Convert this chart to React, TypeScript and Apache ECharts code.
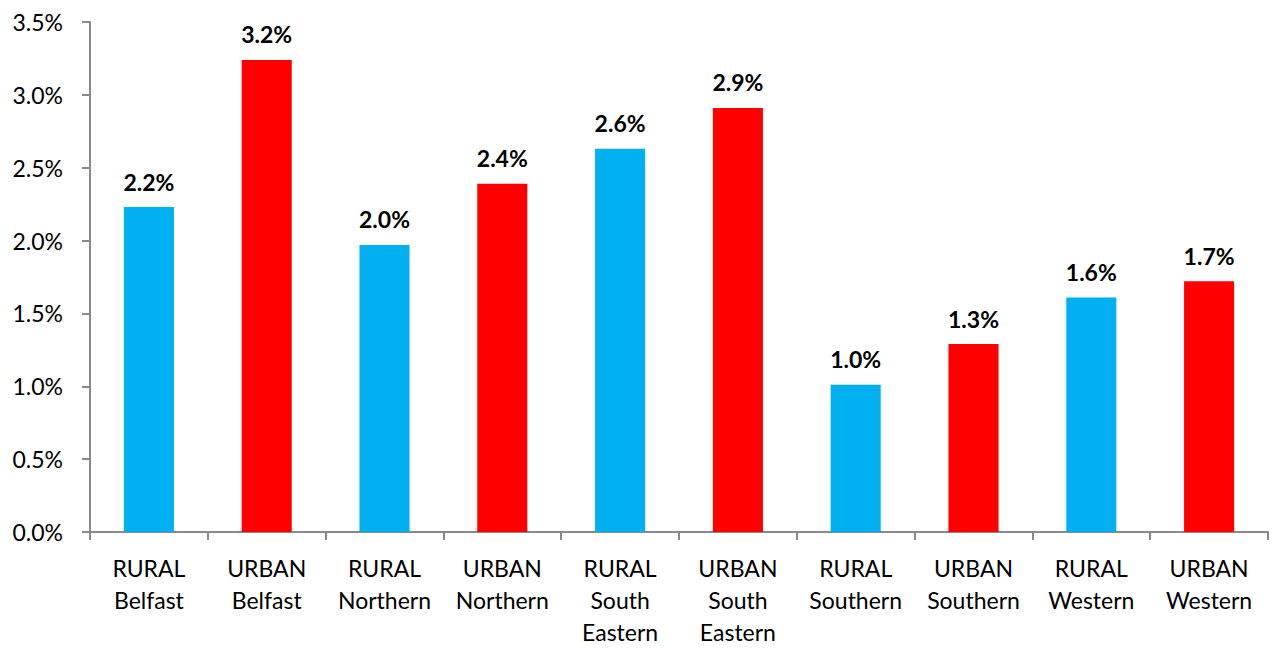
import React, { useEffect, useRef } from "react";
import * as echarts from "echarts";

const categories = [
  "RURAL\nBelfast",
  "URBAN\nBelfast",
  "RURAL\nNorthern",
  "URBAN\nNorthern",
  "RURAL\nSouth\nEastern",
  "URBAN\nSouth\nEastern",
  "RURAL\nSouthern",
  "URBAN\nSouthern",
  "RURAL\nWestern",
  "URBAN\nWestern",
];
const values = [2.23, 3.24, 1.97, 2.39, 2.63, 2.91, 1.01, 1.29, 1.61, 1.72];
const yTicks = [0, 0.5, 1.0, 1.5, 2.0, 2.5, 3.0, 3.5];

const FONT = "Lato, 'Open Sans', sans-serif";

export default function App() {
  const ref = useRef<HTMLDivElement>(null);
  useEffect(() => {
    if (!ref.current) return;
    const chart = echarts.init(ref.current, undefined, { renderer: "svg" });
    chart.setOption({
      animation: false,
      grid: { left: 90, right: 5, top: 22, bottom: 113, containLabel: false },
      xAxis: {
        type: "category",
        data: categories,
        axisLine: { lineStyle: { color: "#898989", width: 2 } },
        axisTick: { show: true, length: 8, lineStyle: { color: "#898989", width: 2 } },
        axisLabel: {
          color: "#000",
          fontFamily: FONT,
          fontSize: 23,
          lineHeight: 32,
          margin: 20,
          interval: 0,
        },
      },
      yAxis: {
        type: "value",
        min: yTicks[0],
        max: yTicks[yTicks.length - 1],
        interval: 0.5,
        splitLine: { show: false },
        axisLine: { show: true, lineStyle: { color: "#898989", width: 2 } },
        axisTick: { show: true, length: 8, lineStyle: { color: "#898989", width: 2 } },
        axisLabel: {
          color: "#000",
          fontFamily: FONT,
          fontSize: 23,
          margin: 27,
          formatter: (v: number) => v.toFixed(1) + "%",
        },
      },
      series: [
        {
          type: "bar",
          data: values,
          barWidth: "42.5%",
          itemStyle: {
            color: (p: any) =>
              String(p.name).startsWith("RURAL") ? "#00B0F0" : "#FF0000",
          },
          label: {
            show: true,
            position: "top",
            distance: 14,
            color: "#000",
            fontFamily: FONT,
            fontWeight: "bold",
            fontSize: 23,
            formatter: (p: any) => Number(p.value).toFixed(1) + "%",
          },
        },
      ],
    });
    return () => chart.dispose();
  }, []);
  return (
    <div
      ref={ref}
      style={{ position: "absolute", left: 0, top: 0, width: 1273, height: 648 }}
    />
  );
}
